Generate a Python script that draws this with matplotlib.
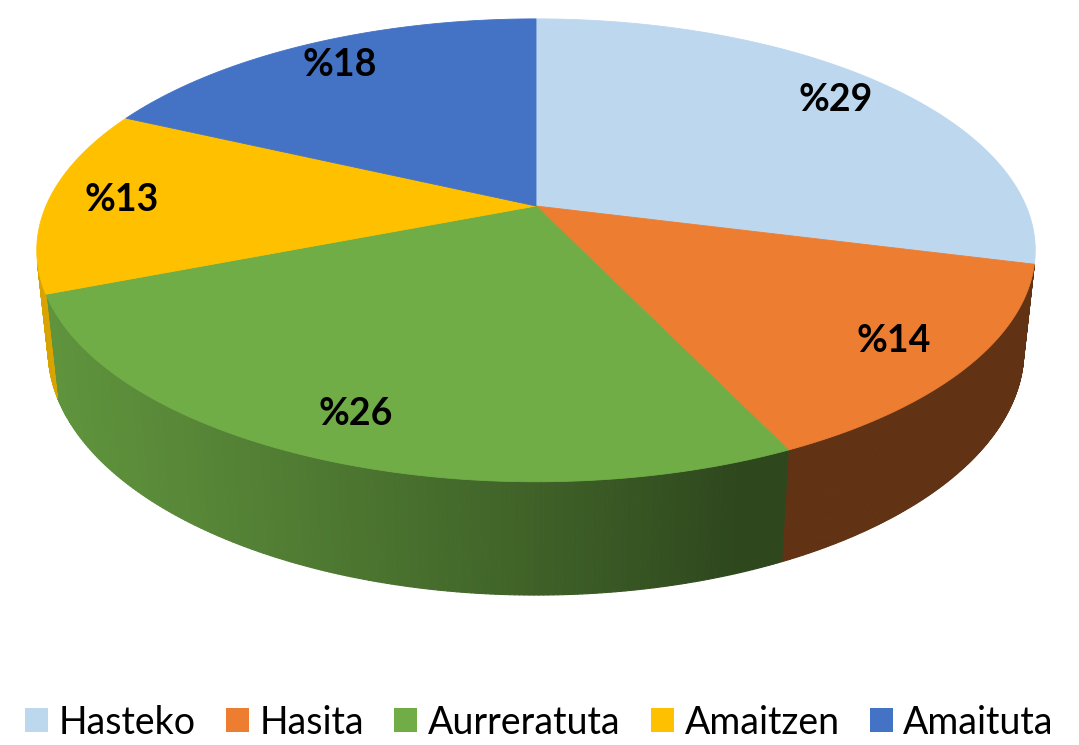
import numpy as np
import matplotlib.pyplot as plt
from matplotlib.patches import Polygon, Patch
from matplotlib.collections import PolyCollection
from matplotlib.colors import to_rgb

# data
categories = ['Hasteko', 'Hasita', 'Aurreratuta', 'Amaitzen', 'Amaituta']
values = [29, 14, 26, 13, 18]
colors = ['#BDD7EE', '#ED7D31', '#70AD47', '#FFC000', '#4472C4']

plt.rcParams['font.family'] = ['Lato', 'DejaVu Sans']

# 3d view settings (pie radius = 1, camera looking down at ~27 deg)
CX, CY = 536, 206        # where the pie centre lands on the canvas
SCALE = 490
DIST = 4.65
TILT = np.arcsin(0.455)
DEPTH = 0.23
LABEL_R = 0.85


def proj(x, y, z):
    # perspective projection of a point on the pie (y up, z toward viewer)
    w = DIST - y * np.sin(TILT) - z * np.cos(TILT)
    px = CX + SCALE * DIST * x / w
    py = CY - SCALE * DIST * (y * np.cos(TILT) - z * np.sin(TILT)) / w
    return px, py


def shade(theta):
    return 0.41 + 0.44 * np.clip(np.cos(theta - np.radians(250)), 0, None)


fig = plt.figure(figsize=(10.79, 7.45), dpi=100)
ax = fig.add_axes([0, 0, 1, 1])
ax.set_xlim(0, 1079)
ax.set_ylim(745, 0)
ax.axis('off')

total = sum(values)
bounds = np.radians(np.concatenate([[0], np.cumsum(values)]) / total * 360)
cos_lim = -1 / (DIST * np.cos(TILT))  # outer wall faces the camera when cos(t) < cos_lim

# side walls
for i in range(len(values)):
    t = np.linspace(bounds[i], bounds[i + 1], 200)
    t = t[np.cos(t) < cos_lim]
    if len(t) < 2:
        continue
    polys, cols = [], []
    base = np.array(to_rgb(colors[i]))
    for a, b in zip(t[:-1], t[1:]):
        p1 = proj(np.sin(a), 0, -np.cos(a))
        p2 = proj(np.sin(b), 0, -np.cos(b))
        p3 = proj(np.sin(b), -DEPTH, -np.cos(b))
        p4 = proj(np.sin(a), -DEPTH, -np.cos(a))
        polys.append([p1, p2, p3, p4])
        cols.append(base * shade((a + b) / 2))
    ax.add_collection(PolyCollection(polys, facecolors=cols, edgecolors=cols, linewidths=0.8))

# top faces
for i in range(len(values)):
    t = np.linspace(bounds[i], bounds[i + 1], 200)
    xs, ys = proj(np.sin(t), 0, -np.cos(t))
    cx0, cy0 = proj(0, 0, 0)
    pts = np.column_stack([np.r_[cx0, xs], np.r_[cy0, ys]])
    ax.add_patch(Polygon(pts, closed=True, facecolor=colors[i], edgecolor=colors[i], lw=0.6))

# labels
for i, v in enumerate(values):
    m = (bounds[i] + bounds[i + 1]) / 2
    lx, ly = proj(LABEL_R * np.sin(m), 0, -LABEL_R * np.cos(m))
    ax.text(lx, ly, '%' + str(v), fontsize=27, fontweight='bold', ha='center', va='center')

handles = [Patch(facecolor=c, edgecolor='none') for c in colors]
ax.legend(handles, categories, loc='center', bbox_to_anchor=(0.5, 0.03), ncol=5,
          frameon=False, fontsize=27, handlelength=0.61, handleheight=0.61,
          handletextpad=0.29, columnspacing=0.8, borderaxespad=0)

fig.savefig('out.png', dpi=100)
